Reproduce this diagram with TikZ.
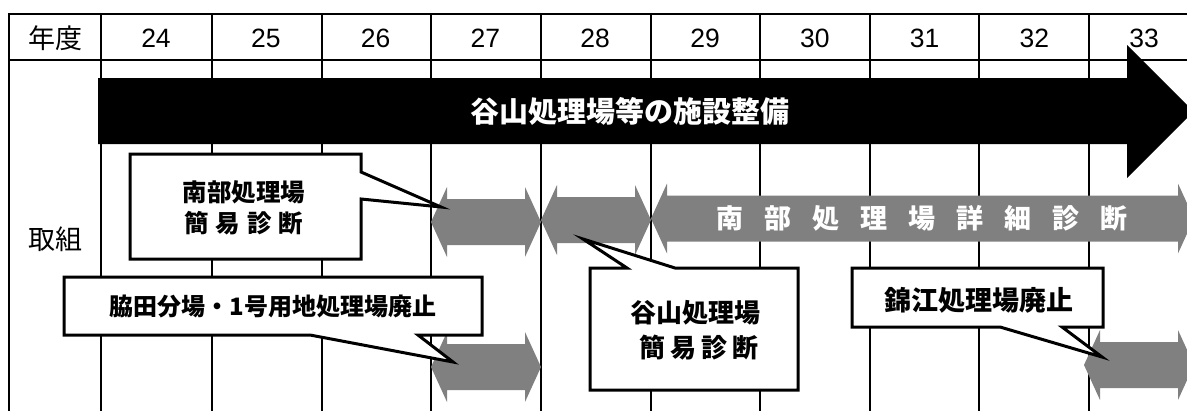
\documentclass[tikz,border=0pt]{standalone}
\usepackage{fontspec}
\setmainfont{Liberation Sans}
\newfontfamily\jp{Noto Sans CJK JP}
\definecolor{garr}{RGB}{128,128,128}
\newcommand\dblarr[3]{%
  \fill[garrow] (#1,#3) -- ({#1+16},{#3-35}) -- ({#1+16},{#3-23}) -- ({#2-16},{#3-23})
   -- ({#2-16},{#3-35}) -- (#2,#3) -- ({#2-16},{#3+35}) -- ({#2-16},{#3+23})
   -- ({#1+16},{#3+23}) -- ({#1+16},{#3+35}) -- cycle;}
\begin{document}
\begin{tikzpicture}[x=1pt,y=-1pt,
  gridline/.style={line width=1.5pt},
  borderline/.style={line width=2pt},
  garrow/.style={fill=garr,draw=none},
  callout/.style={draw=black,fill=white,line width=3pt,line join=miter},
  hdr/.style={inner sep=0pt,font=\jp\fontsize{27}{30}\selectfont},
  num/.style={inner sep=0pt,font=\fontsize{26.5}{28}\selectfont},
  ctext/.style={inner sep=0pt,align=center,font=\jp\bfseries\fontsize{#1}{#1}\selectfont},
  ctext/.default=24]
\useasboundingbox (0,0) rectangle (1187,410);
\clip (0,0) rectangle (1187,410);
% grid
\draw[borderline] (9,412) -- (9,13.5) -- (1190,13.5);
\draw[borderline] (9,60) -- (1190,60);
\foreach \x in {101,212,322,431,541,651,760,870,979,1089}
  \draw[gridline] (\x,13.5) -- (\x,412);
% header
\node[hdr] (nendo) at (55,38) {年度};
\foreach \yr [count=\i from 0] in {24,25,26,27,28,29,30,31,32,33}
  \node[num] (yr\yr) at ({156+109.8*\i},38.5) {\yr};
\node[hdr] (torikumi) at (55,239) {取組};
% black arrow
\fill[black] (98,78) -- (1127,78) -- (1127,45) -- (1193.5,111.5) -- (1127,178)
  -- (1127,144) -- (98,144) -- cycle;
\node[inner sep=0pt,text=white,font=\jp\bfseries\fontsize{29}{30}\selectfont]
  (bar) at (630,111) {谷山処理場等の施設整備};
% gray arrows
\dblarr{431}{541}{222}
\dblarr{541}{651}{220}
\dblarr{651}{1194}{218.5}
\dblarr{431}{541}{367}
\dblarr{1084}{1194}{365}
\node[inner sep=0pt,text=white,font=\jp\bfseries\fontsize{27}{30}\selectfont]
  (detail) at (922,218) {南\hspace{21pt}部\hspace{21pt}処\hspace{21pt}理\hspace{21pt}場\hspace{21pt}詳\hspace{21pt}細\hspace{21pt}診\hspace{21pt}断};
% callouts
\draw[callout] (130,154) -- (361,154) -- (361,172) -- (441,207) -- (361,199)
  -- (361,259) -- (130,259) -- cycle;
\node[ctext=24.5] (c1) at (244,208) {南部処理場\\[7pt]簡\hspace{7pt}易\hspace{7pt}診\hspace{7pt}断};
\draw[callout] (64,277) -- (482,277) -- (482,335) -- (418,335) -- (453,362)
  -- (310,335) -- (64,335) -- cycle;
\node[ctext=24] (c2) at (273,306) {脇田分場・1号用地処理場廃止};
\draw[callout] (590,268) -- (627,268) -- (583,239) -- (675,268) -- (798,268)
  -- (798,390) -- (590,390) -- cycle;
\node[ctext=26] (c3) at (695,330.5) {谷山処理場\\[9pt]\hspace{8pt}簡\hspace{5pt}易\hspace{5pt}診\hspace{5pt}断};
\draw[callout] (852,268) -- (1103,268) -- (1103,327) -- (1062,327) -- (1102,357)
  -- (1000,327) -- (852,327) -- cycle;
\node[ctext=27] (c4) at (979,300) {錦江処理場廃止};
\end{tikzpicture}
\end{document}
